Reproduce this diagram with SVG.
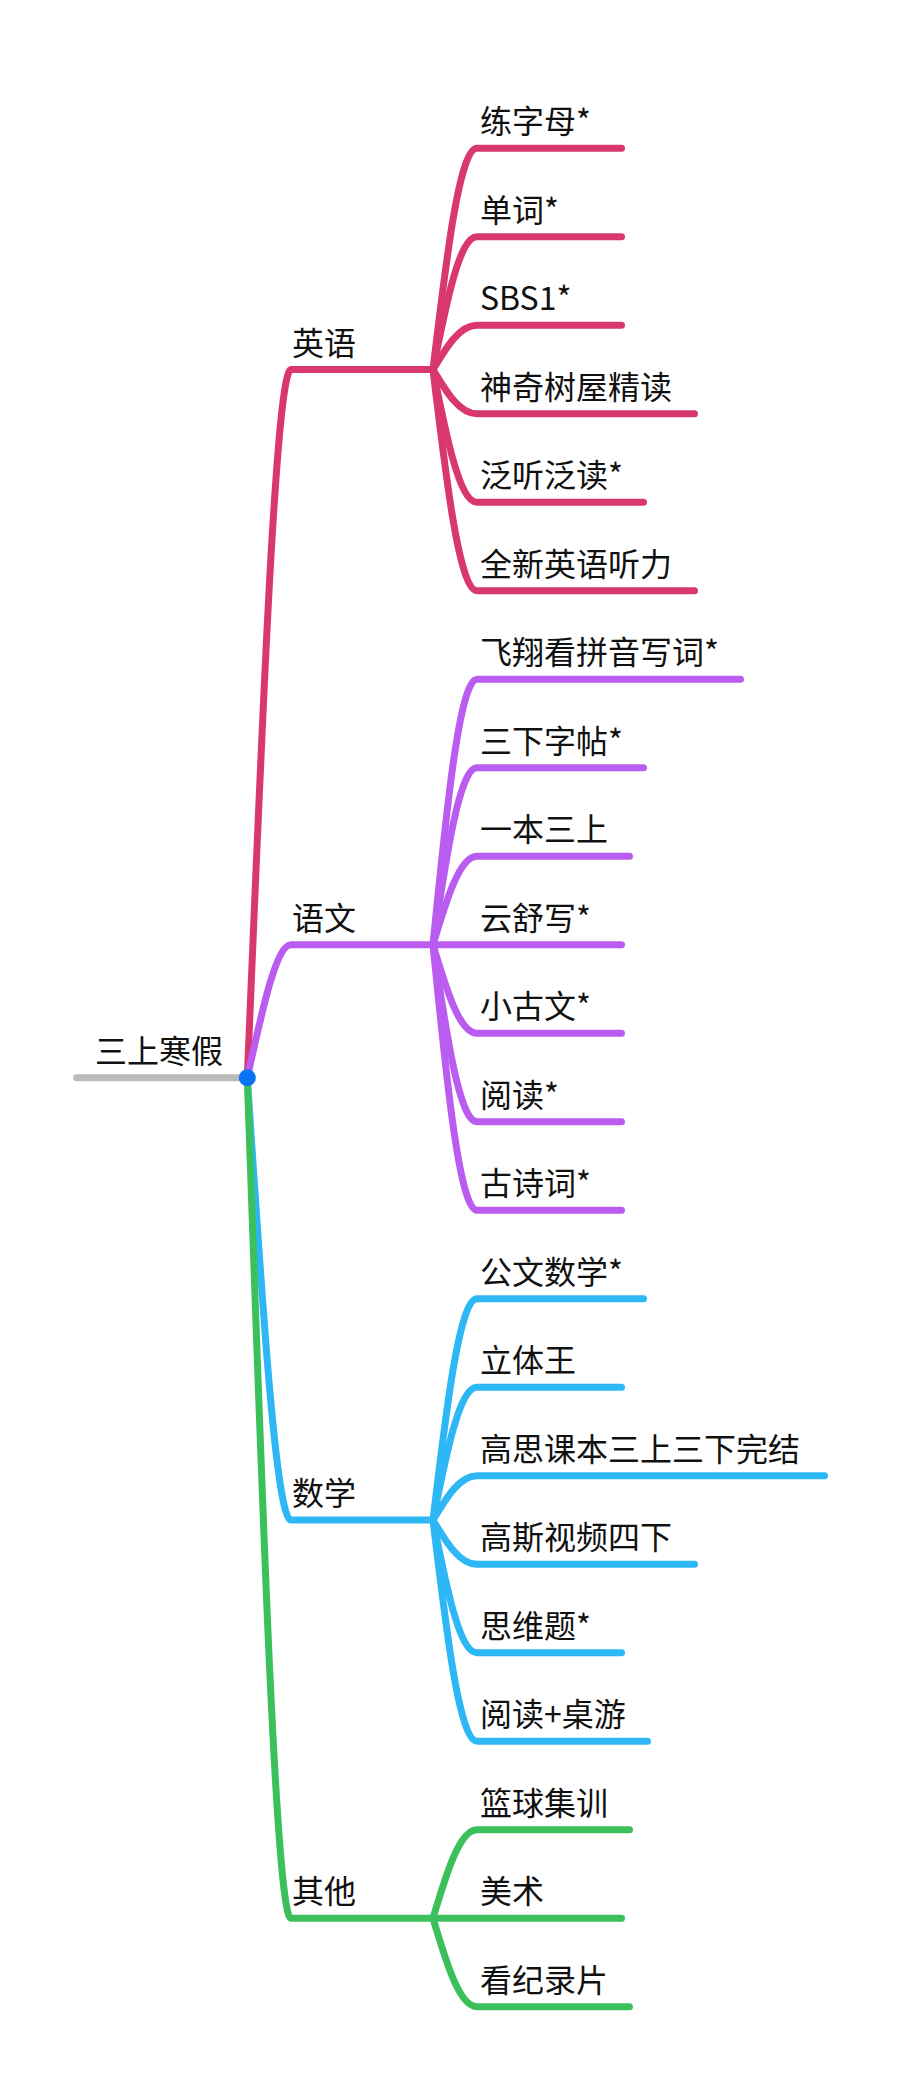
<svg xmlns="http://www.w3.org/2000/svg" width="901" height="2082" viewBox="0 0 901 2082">
<style>
.t{font-family:"Noto Sans CJK SC","Noto Sans",sans-serif;font-size:32px;fill:#111}
.c{fill:none;stroke-width:7;stroke-linecap:round;stroke-linejoin:round}
.en{stroke:#D9386C}
.cn{stroke:#BA5CF0}
.ma{stroke:#2DB8F5}
.ot{stroke:#3CC05C}
</style>
<rect width="901" height="2082" fill="#fff"/>
<g id="connectors">
<path class="c" stroke="#BBBBBB" d="M76.5,1077.7 H247.3"/>
<path class="c en" d="M247.3,1077.7 C262,723.6 276,369.6 291,369.6 H433"/>
<path class="c cn" d="M247.3,1077.7 C262,1011.3 276,944.8 291,944.8 H433"/>
<path class="c ma" d="M247.3,1077.7 C262,1298.9 276,1520.1 291,1520.1 H433"/>
<path class="c ot" d="M247.3,1077.7 C262,1498 276,1918.3 291,1918.3 H433"/>
<path class="c en" d="M433,369.6 C446.2,258.9 459.4,148.3 477,148.3 H621.5"/>
<path class="c en" d="M433,369.6 C446.2,303.2 459.4,236.8 477,236.8 H621.5"/>
<path class="c en" d="M433,369.6 C446.2,347.4 459.4,325.3 477,325.3 H621.5"/>
<path class="c en" d="M433,369.6 C446.2,391.7 459.4,413.8 477,413.8 H694.5"/>
<path class="c en" d="M433,369.6 C446.2,435.9 459.4,502.3 477,502.3 H643.5"/>
<path class="c en" d="M433,369.6 C446.2,480.2 459.4,590.8 477,590.8 H694.5"/>
<path class="c cn" d="M433,944.8 C446.2,812.1 459.4,679.3 477,679.3 H740.5"/>
<path class="c cn" d="M433,944.8 C446.2,856.3 459.4,767.8 477,767.8 H643.5"/>
<path class="c cn" d="M433,944.8 C446.2,900.6 459.4,856.3 477,856.3 H629.5"/>
<path class="c cn" d="M433,944.8 H621.5"/>
<path class="c cn" d="M433,944.8 C446.2,989.1 459.4,1033.3 477,1033.3 H621.5"/>
<path class="c cn" d="M433,944.8 C446.2,1033.3 459.4,1121.8 477,1121.8 H621.5"/>
<path class="c cn" d="M433,944.8 C446.2,1077.6 459.4,1210.3 477,1210.3 H621.5"/>
<path class="c ma" d="M433,1520.1 C446.2,1409.4 459.4,1298.8 477,1298.8 H643.5"/>
<path class="c ma" d="M433,1520.1 C446.2,1453.7 459.4,1387.3 477,1387.3 H621.5"/>
<path class="c ma" d="M433,1520.1 C446.2,1497.9 459.4,1475.8 477,1475.8 H824.5"/>
<path class="c ma" d="M433,1520.1 C446.2,1542.2 459.4,1564.3 477,1564.3 H694.5"/>
<path class="c ma" d="M433,1520.1 C446.2,1586.4 459.4,1652.8 477,1652.8 H621.5"/>
<path class="c ma" d="M433,1520.1 C446.2,1630.7 459.4,1741.3 477,1741.3 H647.5"/>
<path class="c ot" d="M433,1918.3 C446.2,1874.1 459.4,1829.8 477,1829.8 H629.5"/>
<path class="c ot" d="M433,1918.3 H621.5"/>
<path class="c ot" d="M433,1918.3 C446.2,1962.6 459.4,2006.8 477,2006.8 H629.5"/>
</g>
<g id="root"><text class="t" x="95" y="1063">三上寒假</text><circle cx="247.3" cy="1077.7" r="8.5" fill="#0A72F5"/></g>
<g id="n-english"><text class="t" x="292" y="354.6">英语</text></g>
<g id="n-chinese"><text class="t" x="292" y="929.8">语文</text></g>
<g id="n-math"><text class="t" x="292" y="1505.1">数学</text></g>
<g id="n-other"><text class="t" x="292" y="1903.3">其他</text></g>
<g id="n-e1"><text class="t" x="480" y="133.3">练字母*</text></g>
<g id="n-e2"><text class="t" x="480" y="221.8">单词*</text></g>
<g id="n-e3"><text class="t" x="480" y="310.3">SBS1*</text></g>
<g id="n-e4"><text class="t" x="480" y="398.8">神奇树屋精读</text></g>
<g id="n-e5"><text class="t" x="480" y="487.3">泛听泛读*</text></g>
<g id="n-e6"><text class="t" x="480" y="575.8">全新英语听力</text></g>
<g id="n-c1"><text class="t" x="480" y="664.3">飞翔看拼音写词*</text></g>
<g id="n-c2"><text class="t" x="480" y="752.8">三下字帖*</text></g>
<g id="n-c3"><text class="t" x="480" y="841.3">一本三上</text></g>
<g id="n-c4"><text class="t" x="480" y="929.8">云舒写*</text></g>
<g id="n-c5"><text class="t" x="480" y="1018.3">小古文*</text></g>
<g id="n-c6"><text class="t" x="480" y="1106.8">阅读*</text></g>
<g id="n-c7"><text class="t" x="480" y="1195.3">古诗词*</text></g>
<g id="n-m1"><text class="t" x="480" y="1283.8">公文数学*</text></g>
<g id="n-m2"><text class="t" x="480" y="1372.3">立体王</text></g>
<g id="n-m3"><text class="t" x="480" y="1460.8">高思课本三上三下完结</text></g>
<g id="n-m4"><text class="t" x="480" y="1549.3">高斯视频四下</text></g>
<g id="n-m5"><text class="t" x="480" y="1637.8">思维题*</text></g>
<g id="n-m6"><text class="t" x="480" y="1726.3">阅读+桌游</text></g>
<g id="n-o1"><text class="t" x="480" y="1814.8">篮球集训</text></g>
<g id="n-o2"><text class="t" x="480" y="1903.3">美术</text></g>
<g id="n-o3"><text class="t" x="480" y="1991.8">看纪录片</text></g>
</svg>
